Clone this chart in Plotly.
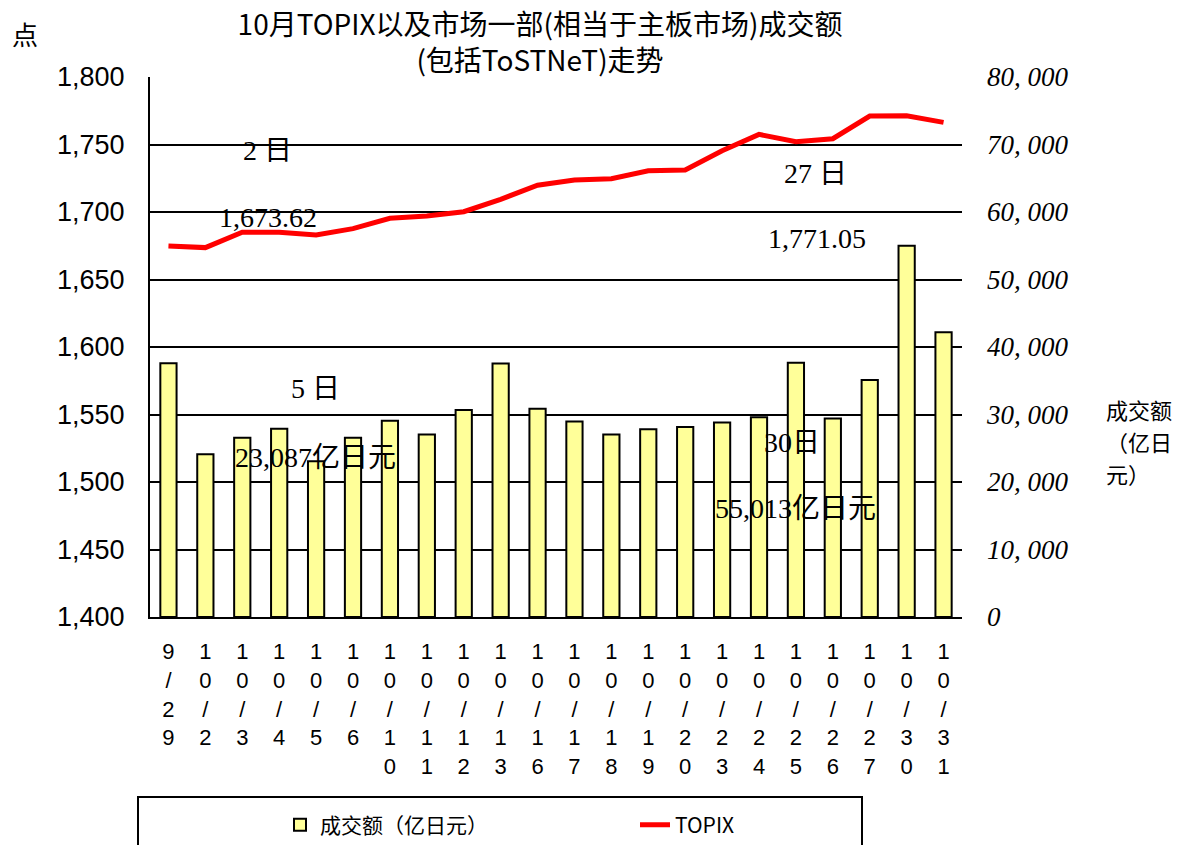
import plotly.graph_objects as go
from plotly.subplots import make_subplots

# ---- data ----
dates = ["9/29", "10/2", "10/3", "10/4", "10/5", "10/6", "10/10", "10/11", "10/12", "10/13",
         "10/16", "10/17", "10/18", "10/19", "10/20", "10/23", "10/24", "10/25", "10/26",
         "10/27", "10/30", "10/31"]
turnover = [37600, 24100, 26550, 27900, 23087, 26550, 29080, 27050, 30650, 37550,
            30850, 28980, 27050, 27800, 28150, 28830, 29580, 37650, 29420,
            35100, 55013, 42200]
topix = [1674.8, 1673.62, 1685.0, 1685.0, 1683.0, 1687.7, 1695.3, 1697.0, 1700.2, 1709.4,
         1719.8, 1723.7, 1724.7, 1730.6, 1731.1, 1745.4, 1757.5, 1752.1, 1754.3,
         1771.05, 1771.3, 1766.4]
left_ticks = [1400, 1450, 1500, 1550, 1600, 1650, 1700, 1750, 1800]
right_tickvals = [0, 10000, 20000, 30000, 40000, 50000, 60000, 70000, 80000]
right_ticktext = ["0", "10, 000", "20, 000", "30, 000", "40, 000", "50, 000", "60, 000", "70, 000", "80, 000"]
x_ticktext = ["<br>".join(list(d)) for d in dates]
right_title_lines = ["成交额", "（亿日", "元）"]

W, H = 1186, 845
L, R, T, B = 150, 962, 77, 617  # plot area in page pixels


def px(x):
    return (x - L) / (R - L)


def py(y):
    return (B - y) / (B - T)


fig = make_subplots(specs=[[{"secondary_y": True}]])

fig.add_trace(go.Bar(x=dates, y=turnover, name="成交额（亿日元）",
                     marker=dict(color="#FFFF99", line=dict(color="black", width=2)),
                     width=0.44), secondary_y=True)
fig.add_trace(go.Scatter(x=dates, y=topix, name="TOPIX", mode="lines",
                         line=dict(color="#FF0000", width=5)), secondary_y=False)

fig.update_xaxes(type="category", tickvals=dates, ticktext=x_ticktext, domain=[0, 1],
                 tickfont=dict(family="Liberation Sans", size=22, color="black"),
                 showline=True, linecolor="black", linewidth=2, ticks="",
                 ticklabelstandoff=14, showgrid=False, automargin=False)
fig.update_yaxes(range=[1400, 1800], tickvals=left_ticks, tickformat=",",
                 tickfont=dict(family="Liberation Sans", size=27, color="black"),
                 showgrid=True, gridcolor="black", gridwidth=2,
                 showline=True, linecolor="black", linewidth=2, ticks="",
                 ticklabelstandoff=18, zeroline=False, automargin=False, secondary_y=False)
fig.update_yaxes(range=[0, 80000], tickvals=right_tickvals, ticktext=right_ticktext,
                 tickfont=dict(family="Liberation Serif", size=27, color="black", style="italic"),
                 showgrid=False, showline=False, ticks="", ticklabelstandoff=24,
                 zeroline=False, automargin=False, secondary_y=True)

ann_font = dict(family="Liberation Serif, Noto Sans CJK SC", size=28, color="black")
labels = [
    ("2 日", 267, 150), ("1,673.62", 268, 218),
    ("27 日", 815, 173), ("1,771.05", 817, 238),
    ("5 日", 315, 389), ("23,087亿日元", 315, 458),
    ("30日", 792, 442), ("55,013亿日元", 795, 508),
]
annotations = []
for text, x, y in labels:
    annotations.append(dict(text=text, x=px(x), y=py(y), xref="paper", yref="paper",
                            showarrow=False, font=ann_font, xanchor="center", yanchor="middle"))
annotations.append(dict(text="点", x=px(25), y=py(33), xref="paper", yref="paper", showarrow=False,
                        font=dict(family="Noto Sans CJK SC", size=26, color="black"),
                        xanchor="center", yanchor="middle"))
for i, line in enumerate(right_title_lines):
    annotations.append(dict(text=line, x=px(1104), y=py(409 + 32 * i), xref="paper", yref="paper",
                            showarrow=False, align="left",
                            font=dict(family="Noto Sans CJK SC", size=22, color="black"),
                            xanchor="left", yanchor="middle"))

fig.update_layout(
    width=W, height=H,
    margin=dict(l=L, r=W - R, t=T, b=H - B, autoexpand=False),
    paper_bgcolor="white", plot_bgcolor="white",
    title=dict(text="10月TOPIX以及市场一部(相当于主板市场)成交额<br>(包括ToSTNeT)走势",
               x=540 / W, xanchor="center", y=1 - 35 / H, yanchor="middle",
               xref="container", yref="container",
               font=dict(family="Noto Sans CJK SC", size=28, color="black")),
    annotations=annotations,
    showlegend=True,
    legend=dict(orientation="h", x=px(280), y=py(825), xanchor="left", yanchor="middle",
                font=dict(family="Noto Sans CJK SC", size=21, color="black"),
                entrywidth=310, entrywidthmode="pixels", bgcolor="rgba(0,0,0,0)",
                traceorder="normal"),
    shapes=[dict(type="rect", xref="paper", yref="paper", x0=px(138), x1=px(862),
                 y0=py(852), y1=py(797), line=dict(color="black", width=2),
                 fillcolor="rgba(0,0,0,0)", layer="above")],
    bargap=0.5,
)

fig.write_html("out.html", config={"displayModeBar": False},
               post_script="document.body.style.margin='0';")
